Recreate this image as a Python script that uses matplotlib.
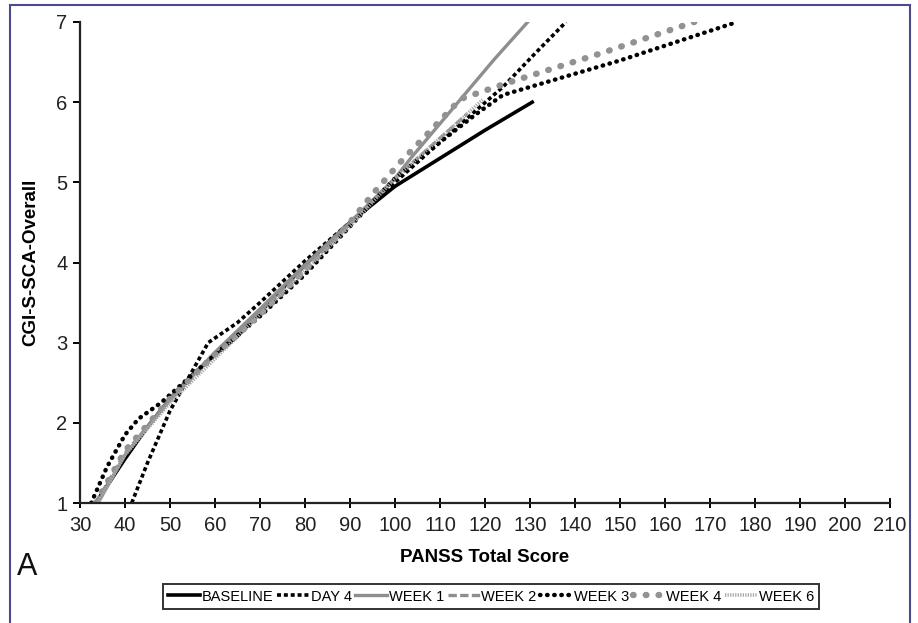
import matplotlib

matplotlib.use('Agg')
import matplotlib.pyplot as plt
from matplotlib.patches import Rectangle

plt.rcParams['font.family'] = ['Liberation Sans', 'DejaVu Sans']

# values (PANSS total -> CGI-S-SCA overall)
baseline_x = [33.5, 40, 45, 50, 55, 60, 65, 70, 80, 90, 100, 110, 120, 130.5]
baseline_y = [1.0, 1.55, 1.95, 2.3, 2.6, 2.85, 3.08, 3.38, 3.97, 4.5, 4.95, 5.3, 5.65, 6.0]

day4_x = [41.5, 45, 50, 54, 58.5, 65, 70, 80, 90, 100, 108, 115, 124, 131, 138]
day4_y = [1.0, 1.5, 2.15, 2.55, 3.0, 3.25, 3.5, 4.02, 4.5, 5.0, 5.4, 5.75, 6.19, 6.6, 7.0]

week1_x = [34, 40, 50, 60, 70, 80, 90, 100, 103.5, 122, 129.5]
week1_y = [1.0, 1.6, 2.3, 2.88, 3.42, 3.97, 4.5, 5.05, 5.3, 6.53, 7.0]

week2_x = [33.5, 40, 50, 60, 70, 80, 90, 100, 110, 116]
week2_y = [1.0, 1.62, 2.28, 2.85, 3.4, 3.93, 4.48, 5.05, 5.55, 5.85]

week3_x = [32.5, 36, 40, 43, 48, 55, 60, 70, 80, 90, 100, 110, 118, 124, 150, 176]
week3_y = [1.0, 1.45, 1.85, 2.05, 2.25, 2.6, 2.85, 3.33, 3.85, 4.45, 5.05, 5.5, 5.85, 6.09, 6.52, 7.0]

week4_x = [33.5, 40, 50, 60, 70, 80, 90, 95, 101, 108, 114.6, 125, 145.8, 166.5]
week4_y = [1.0, 1.65, 2.3, 2.85, 3.35, 3.9, 4.5, 4.85, 5.24, 5.65, 6.04, 6.24, 6.61, 7.0]

week6_x = [34, 40, 50, 60, 70, 80, 90, 100, 110, 119.5]
week6_y = [1.0, 1.6, 2.25, 2.8, 3.35, 3.9, 4.45, 5.05, 5.55, 6.03]

x_ticks = list(range(30, 211, 10))
y_ticks = list(range(1, 8))

fig = plt.figure(figsize=(9.18, 6.23), dpi=100)
ax = fig.add_axes([0.0871, 0.1926, 0.8824, 0.7721])

ax.plot(baseline_x, baseline_y, color='black', lw=2.6, label='BASELINE')
ax.plot(day4_x, day4_y, color='black', lw=2.6, linestyle=(0, (1.1, 0.8)), label='DAY 4')
ax.plot(week1_x, week1_y, color='#8e8e8e', lw=2.4, label='WEEK 1')
ax.plot(week2_x, week2_y, color='#8e8e8e', lw=2.4, linestyle=(0, (2.5, 1.0)), label='WEEK 2')
ax.plot(week3_x, week3_y, color='black', lw=3.2, linestyle=(0, (0.1, 1.5)),
        dash_capstyle='round', label='WEEK 3')
ax.plot(week4_x, week4_y, color='#929292', lw=4.6, linestyle=(0, (0.1, 1.9)),
        dash_capstyle='round', label='WEEK 4')
ax.plot(week6_x, week6_y, color='#a8a8a8', lw=2.6, linestyle=(0, (0.35, 0.35)), label='WEEK 6')

ax.set_xlim(30, 210)
ax.set_ylim(1, 7)
ax.set_xticks(x_ticks)
ax.set_yticks(y_ticks)
ax.spines['top'].set_visible(False)
ax.spines['right'].set_visible(False)
for side in ('left', 'bottom'):
    ax.spines[side].set_linewidth(1.6)
    ax.spines[side].set_color('#222222')
ax.tick_params(axis='x', direction='inout', length=7, width=1.4, labelsize=14.5,
               labelcolor='#222222', pad=6)
ax.tick_params(axis='y', direction='out', length=5, width=1.4, labelsize=14.5,
               labelcolor='#222222', pad=4)

ax.set_xlabel('PANSS Total Score', fontsize=13.5, fontweight='bold', labelpad=10)
ax.set_ylabel('CGI-S-SCA-Overall', fontsize=13.5, fontweight='bold', labelpad=12)

fig.text(0.018, 0.077, 'A', fontsize=22, color='#111111')

leg = fig.legend(loc='center', bbox_to_anchor=(0.535, 0.0425), ncol=7, frameon=True,
                 fontsize=10.5, handlelength=2.2, handletextpad=0.1, columnspacing=0.25,
                 borderpad=0.35, fancybox=False, edgecolor='black')
leg.get_frame().set_linewidth(1.4)

# outer frame around the figure
fig.patches.append(Rectangle((10 / 918, -0.05), 900 / 918, 1.05 - 5 / 623,
                             transform=fig.transFigure, fill=False,
                             edgecolor='#4b4b8c', lw=1.5))

fig.savefig('out.png', dpi=100)
